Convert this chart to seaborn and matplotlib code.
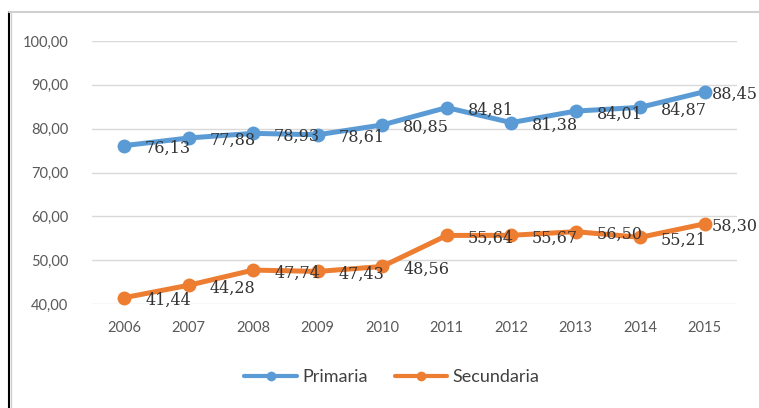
import matplotlib
matplotlib.use("Agg")
import matplotlib.pyplot as plt
from matplotlib.lines import Line2D
import seaborn as sns
import pandas as pd

# Data
years = [2006, 2007, 2008, 2009, 2010, 2011, 2012, 2013, 2014, 2015]
primaria = [76.13, 77.88, 78.93, 78.61, 80.85, 84.81, 81.38, 84.01, 84.87, 88.45]
secundaria = [41.44, 44.28, 47.74, 47.43, 48.56, 55.64, 55.67, 56.50, 55.21, 58.30]
series_names = ["Primaria", "Secundaria"]
y_ticks = [40, 50, 60, 70, 80, 90, 100]

colors = {"Primaria": "#5B9BD5", "Secundaria": "#ED7D31"}

df = pd.DataFrame({
    "year": years * 2,
    "valor": primaria + secundaria,
    "nivel": [series_names[0]] * len(years) + [series_names[1]] * len(years),
})

sns.set_style("white")
plt.rcParams["font.family"] = ["Lato", "DejaVu Sans"]

fig = plt.figure(figsize=(7.59, 4.08), dpi=100)
ax = fig.add_axes([92 / 759, 1 - 304 / 408, 645 / 759, 263 / 408])

sns.lineplot(data=df, x="year", y="valor", hue="nivel", palette=colors,
             marker="o", markersize=10, markeredgewidth=0, linewidth=3.6,
             ax=ax, clip_on=False, zorder=3)

# data labels, to the right of each point
for vals, name in [(primaria, "Primaria"), (secundaria, "Secundaria")]:
    for i, (x, v) in enumerate(zip(years, vals)):
        dx = 5 if i == len(years) - 1 else 15
        ax.annotate(f"{v:.2f}".replace(".", ","), (x, v), xytext=(dx, -2),
                    textcoords="offset points", ha="left", va="center",
                    fontsize=11.5, family="DejaVu Serif", color="#333333",
                    annotation_clip=False, zorder=4)

ax.set_xlim(years[0] - 0.5, years[-1] + 0.5)
ax.set_ylim(y_ticks[0], y_ticks[-1])
ax.set_xticks(years)
ax.set_xticklabels([str(y) for y in years])
ax.set_yticks(y_ticks)
ax.set_yticklabels([f"{t:.2f}".replace(".", ",") for t in y_ticks])
ax.tick_params(axis="both", labelsize=10.5, labelcolor="#595959", length=0)
ax.tick_params(axis="x", pad=12)
ax.tick_params(axis="y", pad=17)
ax.yaxis.grid(True, color="#D9D9D9", linewidth=1)
ax.set_axisbelow(True)
for s in ax.spines.values():
    s.set_visible(False)
ax.set_xlabel("")
ax.set_ylabel("")

handles, labels = ax.get_legend_handles_labels()
ax.get_legend().remove()
leg = fig.legend(handles, labels, loc="center", bbox_to_anchor=(392 / 759, 1 - 377 / 408),
                 ncol=2, frameon=False, fontsize=13, handlelength=2.9,
                 handletextpad=0.3, columnspacing=1.5)
for h in leg.legend_handles:
    h.set_linewidth(3)
    h.set_markersize(7)
for t in leg.get_texts():
    t.set_color("#404040")

# frame lines around the picture
fig.add_artist(Line2D([9 / 759, 9 / 759], [0, 1 - 12 / 408], color="black", linewidth=1.5,
                      transform=fig.transFigure))
fig.add_artist(Line2D([11 / 759, 11 / 759], [0, 1 - 13 / 408], color="#D0D0D0", linewidth=1,
                      transform=fig.transFigure))
fig.add_artist(Line2D([9 / 759, 1], [1 - 12 / 408, 1 - 12 / 408], color="#D0D0D0", linewidth=1.5,
                      transform=fig.transFigure))

fig.savefig("out.png", dpi=100)
